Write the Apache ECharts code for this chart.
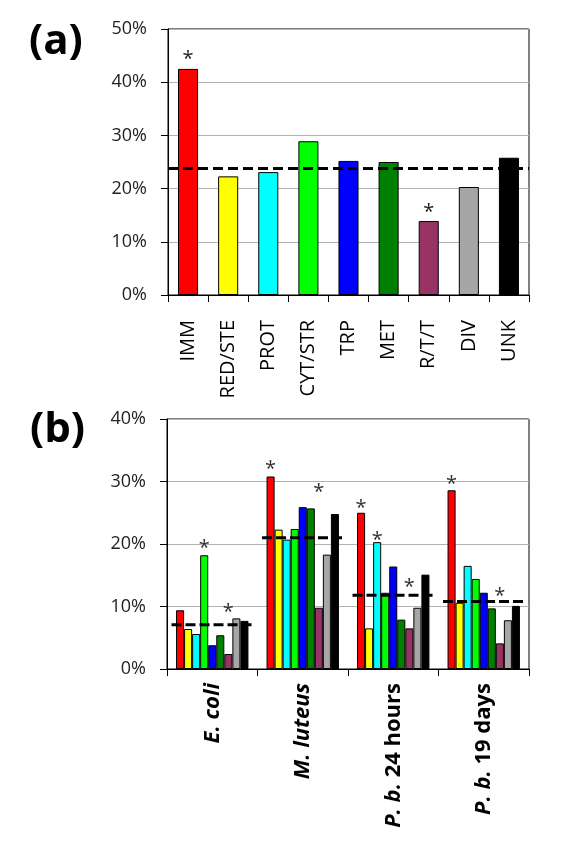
<!DOCTYPE html>
<html>
<head>
<meta charset="utf-8">
<script src="https://cdn.jsdelivr.net/npm/echarts@6/dist/echarts.min.js"></script>
<style>
  html, body { margin: 0; padding: 0; background: #fff; }
  #chart { width: 576px; height: 864px; }
</style>
</head>
<body>
<div id="chart"></div>
<script>
;(function () {
  'use strict'

  // panel (a): share per functional class
  var FUNC_CATS   = ['IMM', 'RED/STE', 'PROT', 'CYT/STR', 'TRP', 'MET', 'R/T/T', 'DIV', 'UNK']
  var FUNC_COLORS = ['#ff0000', '#ffff00', '#00ffff', '#00ff00', '#0000ff', '#008000', '#993366', '#a6a6a6', '#000000']
  var FUNC_SHARE  = [42.5, 22.3, 23.1, 28.9, 25.2, 25.0, 13.9, 20.3, 25.8]
  var FUNC_MEAN   = 23.8
  var FUNC_STARS  = [[0, 45.2], [6, 16.4]]          // [category, height]
  var TICKS_A     = { min: 0, max: 50, step: 10 }

  // panel (b): share per host, one array per functional class
  var HOSTS  = ['E. coli', 'M. luteus', 'P. b. 24 hours', 'P. b. 19 days']
  var B_IMM  = [9.4, 30.8, 25.0, 28.6]
  var B_RED  = [6.4, 22.3, 6.5, 10.6]
  var B_PROT = [5.6, 20.7, 20.3, 16.5]
  var B_CYT  = [18.2, 22.4, 12.2, 14.4]
  var B_TRP  = [3.8, 25.9, 16.4, 12.2]
  var B_MET  = [5.4, 25.7, 7.9, 9.7]
  var B_RTT  = [2.4, 9.8, 6.5, 4.1]
  var B_DIV  = [8.1, 18.3, 9.8, 7.8]
  var B_UNK  = [7.7, 24.8, 15.1, 10.1]
  var HOST_MEAN  = [7.1, 21.0, 11.8, 10.8]
  var HOST_STARS = [[0, 3, 20.1], [0, 6, 9.9], [1, 0, 32.8], [1, 6, 29.0], [2, 0, 26.5],
                    [2, 2, 21.4], [2, 6, 13.8], [3, 0, 30.3], [3, 6, 12.5]]   // [host, class, height]
  var TICKS_B = { min: 0, max: 40, step: 10 }

  var B_SERIES = [B_IMM, B_RED, B_PROT, B_CYT, B_TRP, B_MET, B_RTT, B_DIV, B_UNK]
  var FONT = '"Open Sans", "Liberation Sans", sans-serif'
  var GROUP_FILL = 0.8   // 1 - barCategoryGap

  function valueAxis(grid, t) {
    return {
      type: 'value', gridIndex: grid, min: t.min, max: t.max, interval: t.step,
      axisLine: { show: true, lineStyle: { color: '#000', width: 1 } },
      axisTick: { show: true, length: 7, lineStyle: { color: '#000' } },
      axisLabel: { formatter: '{value}%', margin: 21, fontFamily: FONT, fontSize: 18, color: '#222' },
      splitLine: { lineStyle: { color: '#b3b3b3', width: 1 } }
    }
  }

  function starText(x, y, color) {
    return {
      type: 'text', z2: 20,
      style: { text: '*', x: x, y: y + 5, align: 'center', verticalAlign: 'middle',
               font: '20px ' + FONT, fill: color }
    }
  }

  var series = []

  series.push({
    type: 'bar', xAxisIndex: 0, yAxisIndex: 0, barCategoryGap: '50%',
    data: FUNC_SHARE.map(function (v, i) {
      return { value: v, itemStyle: { color: FUNC_COLORS[i] } }
    }),
    itemStyle: { borderColor: '#000', borderWidth: 1 },
    markLine: {
      silent: true, symbol: 'none', label: { show: false }, z: 10,
      lineStyle: { color: '#000', width: 3, type: [10, 5] },
      data: [{ yAxis: FUNC_MEAN }]
    }
  })

  series.push({
    type: 'custom', xAxisIndex: 0, yAxisIndex: 0, z: 12, data: FUNC_STARS,
    renderItem: function (params, api) {
      var c = api.coord([api.value(0), api.value(1)])
      return starText(c[0], c[1], '#222')
    }
  })

  B_SERIES.forEach(function (arr, k) {
    series.push({
      type: 'bar', xAxisIndex: 1, yAxisIndex: 1, data: arr,
      barGap: '0%', barCategoryGap: '20%',
      itemStyle: { color: FUNC_COLORS[k], borderColor: '#000', borderWidth: 1 }
    })
  })

  series.push({
    type: 'custom', xAxisIndex: 1, yAxisIndex: 1, z: 10,
    data: HOST_MEAN.map(function (v, i) { return [i, v] }),
    renderItem: function (params, api) {
      var c = api.coord([api.value(0), api.value(1)])
      var w = api.size([1, 0])[0] * 0.9
      return {
        type: 'line',
        shape: { x1: c[0] - w / 2, y1: c[1], x2: c[0] + w / 2, y2: c[1] },
        style: { stroke: '#000', lineWidth: 3, lineDash: [10, 4] }
      }
    }
  })

  series.push({
    type: 'custom', xAxisIndex: 1, yAxisIndex: 1, z: 12, data: HOST_STARS,
    renderItem: function (params, api) {
      var c = api.coord([api.value(0), api.value(2)])
      var barW = api.size([1, 0])[0] * GROUP_FILL / B_SERIES.length
      var x = c[0] + (api.value(1) - (B_SERIES.length - 1) / 2) * barW
      return starText(x, c[1], '#333')
    }
  })

  function hostLabel(name) {
    var m = name.match(/^(P\. b\.)(.*)$/)
    if (m) return '{i|' + m[1] + '}{n|' + m[2] + '}'
    return '{i|' + name + '}'
  }

  var option = {
    animation: false,
    backgroundColor: '#fff',
    title: [
      { text: '(a)', left: 24, top: 16, textStyle: { fontFamily: FONT, fontSize: 42, fontWeight: 'bold', color: '#000' } },
      { text: '(b)', left: 25, top: 404, textStyle: { fontFamily: FONT, fontSize: 42, fontWeight: 'bold', color: '#000' } }
    ],
    grid: [
      { left: 168, top: 29, width: 361, height: 266, show: true, borderColor: '#000', borderWidth: 1, backgroundColor: 'transparent' },
      { left: 167, top: 419, width: 362, height: 250, show: true, borderColor: '#000', borderWidth: 1, backgroundColor: 'transparent' }
    ],
    xAxis: [
      {
        type: 'category', gridIndex: 0, data: FUNC_CATS,
        axisLine: { lineStyle: { color: '#000' } },
        axisTick: { show: true, length: 7, lineStyle: { color: '#000' } },
        axisLabel: { rotate: 90, margin: 25, interval: 0, fontFamily: FONT, fontSize: 20, color: '#000' }
      },
      {
        type: 'category', gridIndex: 1, data: HOSTS,
        axisLine: { lineStyle: { color: '#000' } },
        axisTick: { show: true, length: 7, lineStyle: { color: '#000' } },
        axisLabel: {
          rotate: 90, margin: 14, interval: 0, formatter: hostLabel,
          rich: {
            i: { fontFamily: FONT, fontSize: 22, fontWeight: 'bold', fontStyle: 'italic', color: '#000' },
            n: { fontFamily: FONT, fontSize: 22, fontWeight: 'bold', color: '#000' }
          }
        }
      }
    ],
    yAxis: [valueAxis(0, TICKS_A), valueAxis(1, TICKS_B)],
    series: series
  }

  var chart = echarts.init(document.getElementById('chart'), null, { renderer: 'canvas' })
  chart.setOption(option)
})()
</script>
</body>
</html>
